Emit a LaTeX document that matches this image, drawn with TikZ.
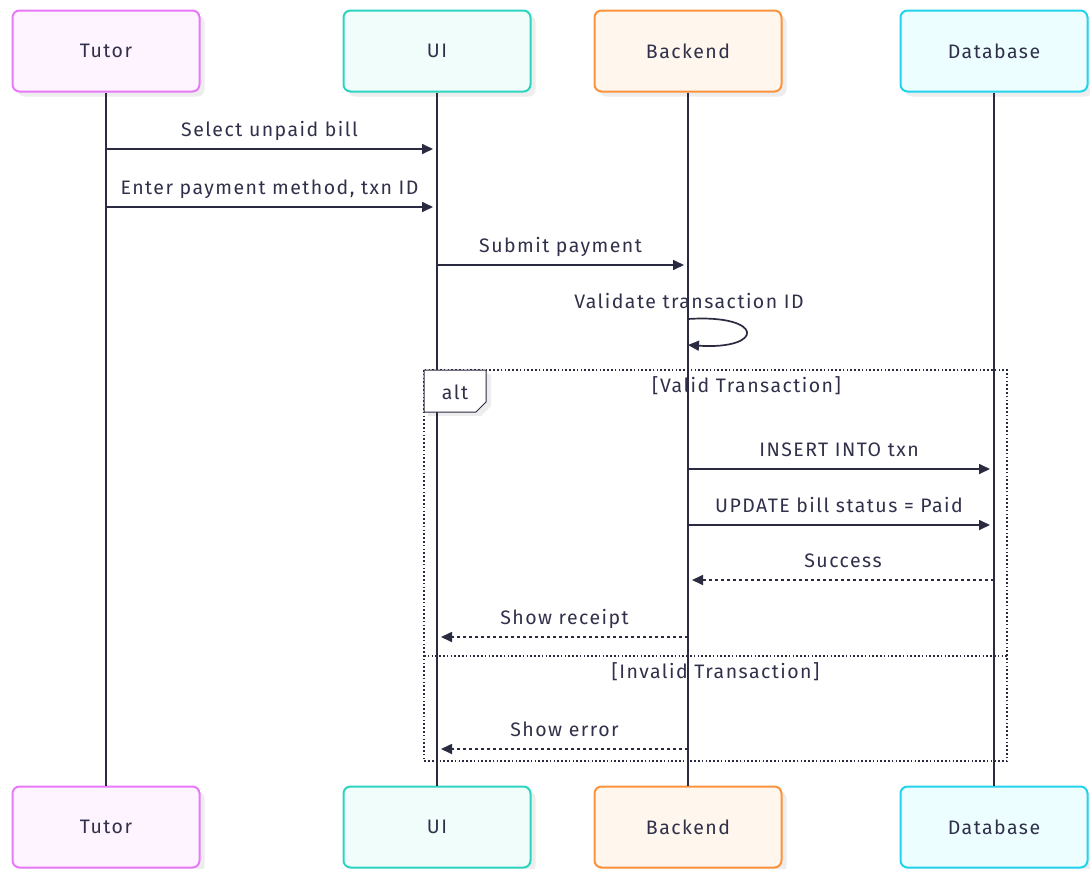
\documentclass[tikz,border=0pt]{standalone}
\usepackage{fontspec}
\setmainfont[LetterSpace=7.5]{Fira Sans}
\usetikzlibrary{arrows.meta,shadows}
\definecolor{ink}{HTML}{2A2A40}
\definecolor{txt}{HTML}{30304A}
\definecolor{tutD}{HTML}{E879F9}\definecolor{tutF}{HTML}{FDF4FF}
\definecolor{uiD}{HTML}{2DD4BF}\definecolor{uiF}{HTML}{F0FDFA}
\definecolor{beD}{HTML}{FB923C}\definecolor{beF}{HTML}{FFF7ED}
\definecolor{dbD}{HTML}{22D3EE}\definecolor{dbF}{HTML}{ECFEFF}
\begin{document}
\begin{tikzpicture}[x=1pt,y=-1pt,
  actor/.style={draw=#1D, fill=#1F, rounded corners=7pt, line width=2pt,
    minimum width=187pt, minimum height=81pt, text=txt,
    font=\fontsize{19.5}{22}\selectfont,
    drop shadow={shadow xshift=5pt, shadow yshift=-5pt, fill=black, opacity=0.07}},
  life/.style={draw=ink, line width=2pt},
  msg/.style={draw=ink, line width=1.7pt, -{Triangle[length=11pt,width=10pt]}},
  reply/.style={msg, dash pattern=on 3pt off 3pt},
  lbl/.style={text=txt, font=\fontsize{19.5}{22}\selectfont, inner sep=0pt},
  mlbl/.style={lbl, midway, anchor=base, yshift=13pt},
  frame/.style={draw=ink, line width=1.4pt, dash pattern=on 1.6pt off 2.2pt}
]
\useasboundingbox (0,0) rectangle (1090,868);

% top actors
\node[actor=tut] (tutT) at (106,51) {Tutor};
\node[actor=ui]  (uiT)  at (437,51) {UI};
\node[actor=be]  (beT)  at (688,51) {Backend};
\node[actor=db]  (dbT)  at (994,51) {Database};
% bottom actors
\node[actor=tut] (tutB) at (106,827) {Tutor};
\node[actor=ui]  (uiB)  at (437,827) {UI};
\node[actor=be]  (beB)  at (688,827) {Backend};
\node[actor=db]  (dbB)  at (994,827) {Database};

% lifelines
\draw[life] (tutT.south) -- (tutB.north);
\draw[life] (uiT.south) -- (uiB.north);
\draw[life] (beT.south) -- (beB.north);
\draw[life] (dbT.south) -- (dbB.north);

% alt frame
\coordinate (fTL) at (424,370);
\coordinate (fBR) at (1007,761);
\draw[frame] (fTL) rectangle (fBR);
\coordinate (dL) at (424,656);
\coordinate (dR) at (1007,656);
\draw[frame] (dL) -- (dR);
\fill[black, opacity=0.07] (428,374) -- (491,374) -- (491,406) -- (481,416) -- (428,416) -- cycle;
\draw[fill=white, draw=ink, line width=1pt] (424,370) -- (486,370) -- (486,402) -- (476,412) -- (424,412) -- cycle;
\node[lbl, anchor=base] (altL) at (455,399) {alt};
\node[lbl, anchor=base] (valL) at (746.5,392) {[Valid Transaction]};
\node[lbl, anchor=base] (invL) at (715.5,678) {[Invalid Transaction]};

% messages
\coordinate (m1a) at (106,149); \coordinate (m1b) at (433,149);
\draw[msg] (m1a) -- (m1b) node[mlbl] {Select unpaid bill};
\coordinate (m2a) at (106,207); \coordinate (m2b) at (433,207);
\draw[msg] (m2a) -- (m2b) node[mlbl] {Enter payment method, txn ID};
\coordinate (m3a) at (437,265); \coordinate (m3b) at (684,265);
\draw[msg] (m3a) -- (m3b) node[mlbl] {Submit payment};
% self loop
\coordinate (s1) at (688,319); \coordinate (s2) at (688,345);
\node[lbl, anchor=base] (selfL) at (689,308) {Validate transaction ID};
\draw[msg] (s1) .. controls (765,314) and (765,350) .. (s2);

\coordinate (m5a) at (688,469); \coordinate (m5b) at (990,469);
\draw[msg] (m5a) -- (m5b) node[mlbl] {INSERT INTO txn};
\coordinate (m6a) at (688,525); \coordinate (m6b) at (990,525);
\draw[msg] (m6a) -- (m6b) node[mlbl] {UPDATE bill status = Paid};
\coordinate (m7a) at (994,580); \coordinate (m7b) at (692,580);
\draw[reply] (m7a) -- (m7b) node[mlbl] {Success};
\coordinate (m8a) at (688,637); \coordinate (m8b) at (441,637);
\draw[reply] (m8a) -- (m8b) node[mlbl] {Show receipt};
\coordinate (m9a) at (688,749); \coordinate (m9b) at (441,749);
\draw[reply] (m9a) -- (m9b) node[mlbl] {Show error};
\end{tikzpicture}
\end{document}
